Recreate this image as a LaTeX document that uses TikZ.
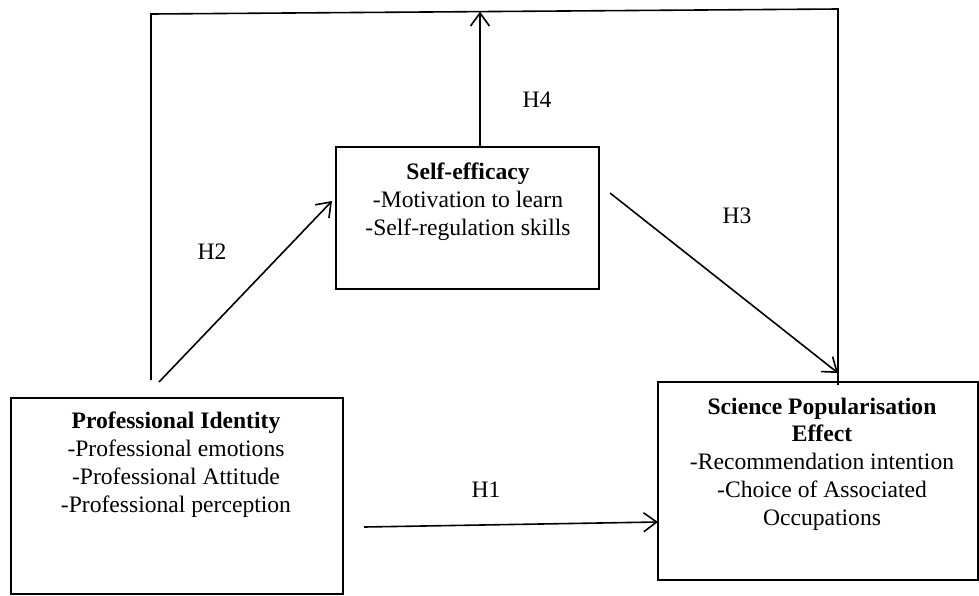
\documentclass[tikz,border=0pt]{standalone}
\usepackage{fontspec}
\setmainfont{Liberation Serif}
\usetikzlibrary{arrows.meta}
\begin{document}
\begin{tikzpicture}[x=1pt,y=-1pt,
  box/.style={draw, line width=1.6pt, rectangle, inner sep=0pt, outer sep=0pt},
  boxtext/.style={align=center, inner sep=0pt, anchor=base, font=\fontsize{23.6}{27.7}\selectfont},
  hlabel/.style={inner sep=0pt, anchor=base, font=\fontsize{23.6}{27.7}\selectfont},
  conn/.style={line width=1.6pt},
  arr/.style={line width=1.6pt, -{Straight Barb[length=13pt,width=19pt,line width=1.6pt]}}]
\useasboundingbox (0,0) rectangle (979,595);
% boxes
\node[box, minimum width=263, minimum height=142, anchor=north west] (se) at (336,147) {};
\node[box, minimum width=332, minimum height=196, anchor=north west] (pi) at (11,398) {};
\node[box, minimum width=320, minimum height=198, anchor=north west] (sp) at (658,382) {};
% texts (anchored at the baseline of the last line)
\node[boxtext] (setext) at (468,235) {\textbf{Self-efficacy}\\-Motivation to learn\\-Self-regulation skills};
\node[boxtext] (pitext) at (176,512) {\textbf{Professional Identity}\\-Professional emotions\\-Professional Attitude\\-Professional perception};
\node[boxtext] (sptext) at (822,525) {\textbf{Science Popularisation}\\\textbf{Effect}\\-Recommendation intention\\-Choice of Associated\\Occupations};
% labels
\node[hlabel] (h4) at (537,107) {H4};
\node[hlabel] (h2) at (212,259) {H2};
\node[hlabel] (h3) at (737,223) {H3};
\node[hlabel] (h1) at (486,497) {H1};
% connector coordinates
\coordinate (ls) at (151,380);
\coordinate (tl) at (151,14);
\coordinate (tr) at (838,9);
\coordinate (re) at (838,385);
\coordinate (h4s) at (480,147);
\coordinate (h4e) at (480,11.7);
\coordinate (h2s) at (159,382);
\coordinate (h2e) at (332,201);
\coordinate (h3s) at (610,193);
\coordinate (h3e) at (838,373);
\coordinate (h1s) at (364,527);
\coordinate (h1e) at (658,522);
% connectors
\draw[conn] (ls) -- (tl) -- (tr) -- (re);
\draw[arr] (h4s) -- (h4e);
\draw[arr] (h2s) -- (h2e);
\draw[arr] (h3s) -- (h3e);
\draw[arr] (h1s) -- (h1e);
\end{tikzpicture}
\end{document}
